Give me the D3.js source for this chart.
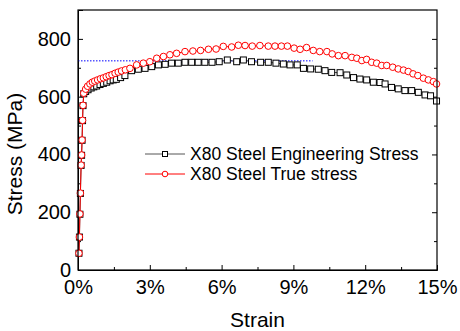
<!DOCTYPE html>
<html>
<head>
<meta charset="utf-8">
<script src="https://cdn.jsdelivr.net/npm/d3@7"></script>
<style>
  body { margin: 0; background: #fff; }
  svg { font-family: 'Liberation Sans', Arial, sans-serif; }
</style>
</head>
<body>
<svg id="chart" width="460" height="331"></svg>
<script>
// strain in %, stress in MPa
const engStrain = [0.04, 0.06, 0.08, 0.10, 0.13, 0.15, 0.17, 0.19, 0.21, 0.24,
  0.32, 0.42, 0.55, 0.66, 0.78, 0.92, 1.06, 1.20, 1.34, 1.47, 1.60, 1.78, 1.96,
  2.24, 2.52, 2.80, 3.08, 3.36, 3.64, 3.91, 4.19, 4.47, 4.75, 5.02, 5.30, 5.60,
  5.90, 6.24, 6.63, 6.91, 7.25, 7.63, 7.95, 8.27, 8.58, 8.86, 9.16, 9.42, 9.72,
  10.04, 10.32, 10.60, 10.95, 11.23, 11.51, 11.78, 12.06, 12.34, 12.62, 12.83,
  13.10, 13.38, 13.66, 13.94, 14.22, 14.50, 14.73, 14.98];
const engStress = [58, 114, 193, 265, 362, 397, 449, 517, 569, 610,
  618, 624, 630, 634, 637, 642, 646, 650, 655, 658, 660, 666, 673,
  690, 695, 698, 704, 710, 712, 716, 716, 719, 719, 719, 719, 719,
  721, 727, 721, 727, 721, 719, 719, 716, 713, 710, 710, 698, 696,
  695, 690, 684, 683, 675, 666, 661, 658, 650, 649, 644,
  632, 627, 621, 621, 615, 606, 603, 585];

const trueStrain = [0.04, 0.06, 0.08, 0.10, 0.13, 0.15, 0.17, 0.19, 0.21, 0.24,
  0.32, 0.40, 0.50, 0.60, 0.70, 0.82, 0.94, 1.06, 1.18, 1.30, 1.42, 1.55, 1.68,
  1.82, 1.98, 2.17, 2.45, 2.73, 3.00, 3.29, 3.57, 3.84, 4.12, 4.47, 4.80, 5.12,
  5.45, 5.77, 6.07, 6.42, 6.70, 6.98, 7.28, 7.60, 7.95, 8.23, 8.50, 8.75, 9.03,
  9.28, 9.55, 9.83, 10.10, 10.40, 10.62, 10.88, 11.16, 11.44, 11.65, 11.86,
  12.06, 12.27, 12.48, 12.69, 12.90, 13.15, 13.38, 13.60, 13.80, 14.00, 14.20,
  14.43, 14.64, 14.85, 14.98];
const trueStress = [58, 114, 194, 266, 363, 398, 450, 518, 570, 612,
  626, 636, 644, 650, 654, 658, 662, 665, 669, 673, 676, 681, 685,
  689, 693, 698, 710, 716, 721, 733, 739, 745, 750, 756, 758, 760,
  764, 765, 774, 772, 778, 777, 775, 777, 775, 775, 775, 775, 768,
  764, 770, 760, 756, 756, 748, 742, 742, 736, 733, 725,
  729, 719, 716, 708, 708, 702, 696, 692, 687, 679, 673,
  664, 658, 652, 644];

const yieldLine = { stress: 724, from: 0, to: 9.8 };

const xTicks = [0, 3, 6, 9, 12, 15];
const xMinor = [1.5, 4.5, 7.5, 10.5, 13.5];
const yTicks = [0, 200, 400, 600, 800];
const yMinor = [100, 300, 500, 700];

const legendLabels = ['X80 Steel Engineering Stress', 'X80 Steel True stress'];

const margin = { left: 78, right: 23, top: 10, bottom: 61 };
const width = 460, height = 331;

const svg = d3.select('#chart');

const x = d3.scaleLinear().domain([0, 15]).range([margin.left, width - margin.right]);
const y = d3.scaleLinear().domain([0, 900]).range([height - margin.bottom, margin.top]);

const x0 = margin.left, x1 = width - margin.right;
const y0 = height - margin.bottom, y1 = margin.top;

// axes: ticks point inward
const xAxis = d3.axisBottom(x).tickValues(xTicks).tickSize(-5).tickPadding(10)
  .tickFormat(d => d + '%');
const yAxis = d3.axisLeft(y).tickValues(yTicks).tickSize(-5).tickPadding(7);

svg.append('g').attr('transform', `translate(0,${y0})`).call(xAxis);
svg.append('g').attr('transform', `translate(0,${y0})`)
  .call(d3.axisBottom(x).tickValues(xMinor).tickSize(-3).tickFormat(''))
  .select('.domain').remove();

svg.append('g').attr('transform', `translate(${x0},0)`).call(yAxis);
svg.append('g').attr('transform', `translate(${x0},0)`)
  .call(d3.axisLeft(y).tickValues(yMinor).tickSize(-3).tickFormat(''))
  .select('.domain').remove();

// right side ticks
svg.append('g').attr('transform', `translate(${x1},0)`)
  .call(d3.axisRight(y).tickValues(yTicks).tickSize(-5).tickFormat(''))
  .select('.domain').remove();
svg.append('g').attr('transform', `translate(${x1},0)`)
  .call(d3.axisRight(y).tickValues(yMinor).tickSize(-3).tickFormat(''))
  .select('.domain').remove();

svg.selectAll('.tick text')
  .style('font-size', '20px')
  .style('fill', '#000');
svg.selectAll('.domain, .tick line').attr('stroke', '#000').attr('stroke-width', 1);

// axis titles
svg.append('text')
  .attr('x', (x0 + x1) / 2)
  .attr('y', 327)
  .attr('text-anchor', 'middle')
  .style('font-size', '21px')
  .text('Strain');

svg.append('text')
  .attr('transform', `translate(22,154)rotate(-90)`)
  .attr('text-anchor', 'middle')
  .style('font-size', '21px')
  .text('Stress (MPa)');

// yield reference line
svg.append('line')
  .attr('x1', x(yieldLine.from)).attr('x2', x(yieldLine.to))
  .attr('y1', y(yieldLine.stress)).attr('y2', y(yieldLine.stress))
  .attr('stroke', '#0000ff')
  .attr('stroke-width', 1)
  .attr('stroke-dasharray', '1.5,1.5');

const engData = engStrain.map((s, i) => ({ x: s, y: engStress[i] }));
const trueData = trueStrain.map((s, i) => ({ x: s, y: trueStress[i] }));

const line = d3.line().x(d => x(d.x)).y(d => y(d.y));

// engineering stress
svg.append('path')
  .datum(engData)
  .attr('d', line)
  .attr('fill', 'none')
  .attr('stroke', '#444')
  .attr('stroke-width', 1);

svg.selectAll('.sq')
  .data(engData)
  .enter()
  .append('rect')
  .attr('class', 'sq')
  .attr('x', d => x(d.x) - 3)
  .attr('y', d => y(d.y) - 3)
  .attr('width', 6)
  .attr('height', 6)
  .attr('fill', '#fff')
  .attr('stroke', '#000')
  .attr('stroke-width', 1);

// true stress
svg.append('path')
  .datum(trueData)
  .attr('d', line)
  .attr('fill', 'none')
  .attr('stroke', '#ff0000')
  .attr('stroke-width', 1);

svg.selectAll('.circ')
  .data(trueData)
  .enter()
  .append('circle')
  .attr('class', 'circ')
  .attr('cx', d => x(d.x))
  .attr('cy', d => y(d.y))
  .attr('r', 3.3)
  .attr('fill', '#fff')
  .attr('stroke', '#ff0000')
  .attr('stroke-width', 1);

// frame
svg.append('rect')
  .attr('x', x0).attr('y', y1)
  .attr('width', x1 - x0).attr('height', y0 - y1)
  .attr('fill', 'none')
  .attr('stroke', '#000')
  .attr('stroke-width', 1.2);

// legend
const legend = svg.selectAll('.legend')
  .data(legendLabels)
  .enter()
  .append('g')
  .attr('class', 'legend')
  .attr('transform', (d, i) => `translate(145,${154 + 20 * i})`);

legend.append('line')
  .attr('x1', 0).attr('x2', 40)
  .attr('stroke', (d, i) => i == 0 ? '#555' : '#ff0000')
  .attr('stroke-width', 1);

legend.filter((d, i) => i == 0).append('rect')
  .attr('x', 17.5).attr('y', -2.5).attr('width', 5).attr('height', 5)
  .attr('fill', '#fff').attr('stroke', '#000');

legend.filter((d, i) => i == 1).append('circle')
  .attr('cx', 20).attr('r', 2.8)
  .attr('fill', '#fff').attr('stroke', '#ff0000');

legend.append('text')
  .attr('x', 45)
  .attr('y', 0)
  .attr('dy', '0.35em')
  .style('font-size', '17.5px')
  .text(d => d);
</script>
</body>
</html>
